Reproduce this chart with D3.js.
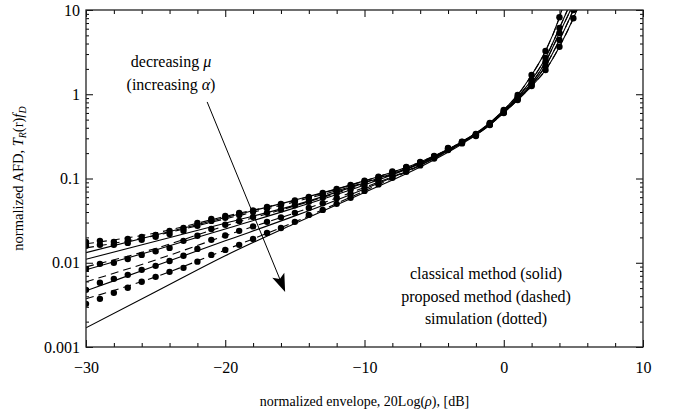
<!DOCTYPE html>
<html>
<head>
<meta charset="utf-8">
<script src="https://cdn.jsdelivr.net/npm/d3@7"></script>
<style>
body { margin: 0; background: #fff; }
text { font-family: "Liberation Serif", "Times New Roman", "DejaVu Serif", serif; fill: #000; }
</style>
</head>
<body>
<svg id="chart" width="674" height="414" font-family="Liberation Serif, Times New Roman, serif"></svg>
<script>
// simulation points, one per dB
const simDb = [-30, -29, -28, -27, -26, -25, -24, -23, -22, -21, -20, -19, -18, -17, -16, -15, -14, -13, -12, -11,
    -10, -9, -8, -7, -6, -5, -4, -3, -2, -1, 0, 1, 2, 3, 4, 5];
const sim1 = [0.0177, 0.0182, 0.0177, 0.0192, 0.0203, 0.0214, 0.0239, 0.0259, 0.0297, 0.0332, 0.0360, 0.0391, 0.0418, 0.0460, 0.0500, 0.0550, 0.0605, 0.0675, 0.0752, 0.0839,
    0.0944, 0.105, 0.121, 0.137, 0.157, 0.185, 0.231, 0.274, 0.338, 0.457, 0.651, 0.981, 1.69, 3.26, 8.19];
const sim2 = [0.0159, 0.0163, 0.0163, 0.0172, 0.0187, 0.0203, 0.0220, 0.0239, 0.0274, 0.0314, 0.0341, 0.0370, 0.0402, 0.0442, 0.0486, 0.0535, 0.0589, 0.0648, 0.0722, 0.0806,
    0.0912, 0.103, 0.118, 0.135, 0.155, 0.183, 0.228, 0.272, 0.334, 0.450, 0.634, 0.929, 1.48, 2.70, 6.12];
const sim3 = [0.00847, 0.0097, 0.00997, 0.0111, 0.0124, 0.0137, 0.0150, 0.0182, 0.0209, 0.0252, 0.0282, 0.0314, 0.0350, 0.0391, 0.0430, 0.0480, 0.0528, 0.0589, 0.0666, 0.0742,
    0.0863, 0.0989, 0.115, 0.134, 0.153, 0.180, 0.225, 0.268, 0.329, 0.444, 0.617, 0.904, 1.36, 2.42, 5.34];
const sim4 = [0.00477, 0.00578, 0.00644, 0.00718, 0.00824, 0.00919, 0.0105, 0.0121, 0.0146, 0.0187, 0.0211, 0.0239, 0.0270, 0.0306, 0.0346, 0.0391, 0.0448, 0.0507, 0.0581, 0.0657,
    0.0795, 0.0924, 0.109, 0.127, 0.149, 0.178, 0.221, 0.265, 0.325, 0.438, 0.608, 0.880, 1.29, 2.17, 4.41, 10.0];
const sim5 = [0.00325, 0.00373, 0.00439, 0.00504, 0.00594, 0.0068, 0.0078, 0.0087, 0.0103, 0.0124, 0.0142, 0.0163, 0.0192, 0.0226, 0.0259, 0.0306, 0.0370, 0.0424, 0.0500, 0.0589,
    0.0713, 0.0851, 0.102, 0.120, 0.143, 0.173, 0.218, 0.261, 0.320, 0.432, 0.600, 0.856, 1.25, 1.94, 3.67, 7.97];

// analytical curves
const lineDb = [-30, -25, -20, -15, -10, -6, -3, -1, 0, 1, 2, 3, 4, 5, 6];
// classical method (solid)
const classic1 = [0.0132, 0.0213, 0.0344, 0.0554, 0.0937, 0.157, 0.274, 0.457, 0.651, 0.981, 1.69, 3.26, 8.19, 30, 100];
const classic2 = [0.0110, 0.0180, 0.0295, 0.0483, 0.0887, 0.153, 0.272, 0.450, 0.634, 0.929, 1.48, 2.70, 6.12, 15, 50];
const classic3 = [0.00824, 0.0142, 0.0252, 0.0448, 0.0839, 0.151, 0.268, 0.444, 0.617, 0.904, 1.36, 2.42, 5.34, 12, 35];
const classic4 = [0.00464, 0.00919, 0.0182, 0.0360, 0.0752, 0.145, 0.265, 0.438, 0.608, 0.880, 1.29, 2.17, 4.41, 10.0, 25];
const classic5 = [0.00169, 0.00452, 0.0121, 0.0293, 0.0684, 0.137, 0.257, 0.432, 0.600, 0.856, 1.25, 1.94, 3.67, 7.97, 20];
// proposed method (dashed)
const proposed1 = [0.0168, 0.0226, 0.0355, 0.0550, 0.0937, 0.157, 0.274, 0.457, 0.651, 0.981, 1.69, 3.26, 8.19, 30, 100];
const proposed2 = [0.0150, 0.0211, 0.0332, 0.0528, 0.0899, 0.153, 0.272, 0.450, 0.634, 0.929, 1.48, 2.70, 6.12, 15, 50];
const proposed3 = [0.00894, 0.0148, 0.0274, 0.0473, 0.0863, 0.151, 0.268, 0.444, 0.617, 0.904, 1.36, 2.42, 5.34, 12, 35];
const proposed4 = [0.00594, 0.0108, 0.0209, 0.0391, 0.0784, 0.145, 0.265, 0.438, 0.608, 0.880, 1.29, 2.17, 4.41, 10.0, 25];
const proposed5 = [0.00373, 0.0068, 0.0142, 0.0306, 0.0713, 0.143, 0.261, 0.432, 0.600, 0.856, 1.25, 1.94, 3.67, 7.97, 20];

const xMajor = [-30, -20, -10, 0, 10];
const xMinor = [-28, -26, -24, -22, -18, -16, -14, -12, -8, -6, -4, -2, 2, 4, 6, 8];
const yMajor = [0.001, 0.01, 0.1, 1, 10];
const yLabels = ["0.001", "0.01", "0.1", "1", "10"];
const legendLines = ["classical method (solid)", "proposed method (dashed)", "simulation (dotted)"];

// arrow annotation, in data units
const arrowFrom = [-21.3, 0.81];
const arrowTo = [-15.7, 0.0045];

const width = 674, height = 414;
const margin = { left: 86, right: 31, top: 10, bottom: 67 };
const x0 = margin.left, x1 = width - margin.right;
const y0 = height - margin.bottom, y1 = margin.top;
const serif = "Liberation Serif, Times New Roman, serif";

var svg = d3.select("#chart");
var x = d3.scaleLinear().domain([-30, 10]).range([x0, x1]);
var y = d3.scaleLog().domain([0.001, 10]).range([y0, y1]);

svg.append("clipPath").attr("id", "plotClip")
    .append("rect").attr("x", x0).attr("y", y1).attr("width", x1 - x0).attr("height", y0 - y1);

var plot = svg.append("g").attr("clip-path", "url(#plotClip)");

var line = d3.line()
    .x(d => x(d[0]))
    .y(d => y(d[1]))
    .curve(d3.curveMonotoneX);

function pairs(xs, ys) {
    return ys.map((v, i) => [xs[i], v]);
}

[classic1, classic2, classic3, classic4, classic5].forEach(s => {
    plot.append("path").attr("d", line(pairs(lineDb, s)))
        .attr("fill", "none").attr("stroke", "#000").attr("stroke-width", 1.1);
});
[proposed1, proposed2, proposed3, proposed4, proposed5].forEach(s => {
    plot.append("path").attr("d", line(pairs(lineDb, s)))
        .attr("fill", "none").attr("stroke", "#000").attr("stroke-width", 1.1)
        .attr("stroke-dasharray", "8,5");
});
[sim1, sim2, sim3, sim4, sim5].forEach(s => {
    plot.append("g").selectAll("circle").data(pairs(simDb, s)).join("circle")
        .attr("cx", d => x(d[0])).attr("cy", d => y(d[1])).attr("r", 3.2)
        .attr("fill", "#000");
});

// axes: inward ticks on all four sides
function styleAxis(g) {
    g.select(".domain").remove();
    g.selectAll("line").attr("stroke", "#000").attr("stroke-width", 1);
    g.selectAll("text").attr("font-family", serif).attr("font-size", 16).attr("fill", "#000");
    g.attr("font-family", serif).attr("font-size", null);
}
const fmtX = d => d < 0 ? "\u2212" + Math.abs(d) : String(d);
var yMinor = [];
[0.001, 0.01, 0.1, 1].forEach(dec => {
    for (var k = 2; k <= 9; k++) yMinor.push(dec * k);
});

svg.append("g").attr("transform", `translate(0,${y0})`)
    .call(d3.axisBottom(x).tickValues(xMajor).tickSize(-7).tickPadding(15).tickFormat(fmtX)).call(styleAxis);
svg.append("g").attr("transform", `translate(0,${y0})`)
    .call(d3.axisBottom(x).tickValues(xMinor).tickSize(-4).tickFormat("")).call(styleAxis);
svg.append("g").attr("transform", `translate(0,${y1})`)
    .call(d3.axisTop(x).tickValues(xMajor).tickSize(-7).tickFormat("")).call(styleAxis);
svg.append("g").attr("transform", `translate(0,${y1})`)
    .call(d3.axisTop(x).tickValues(xMinor).tickSize(-4).tickFormat("")).call(styleAxis);

svg.append("g").attr("transform", `translate(${x0},0)`)
    .call(d3.axisLeft(y).tickValues(yMajor).tickSize(-7).tickPadding(6).tickFormat((d, i) => yLabels[i])).call(styleAxis);
svg.append("g").attr("transform", `translate(${x0},0)`)
    .call(d3.axisLeft(y).tickValues(yMinor).tickSize(-3).tickFormat("")).call(styleAxis);
svg.append("g").attr("transform", `translate(${x1},0)`)
    .call(d3.axisRight(y).tickValues(yMajor).tickSize(-7).tickFormat("")).call(styleAxis);
svg.append("g").attr("transform", `translate(${x1},0)`)
    .call(d3.axisRight(y).tickValues(yMinor).tickSize(-3).tickFormat("")).call(styleAxis);

svg.append("rect").attr("x", x0).attr("y", y1).attr("width", x1 - x0).attr("height", y0 - y1)
    .attr("fill", "none").attr("stroke", "#222").attr("stroke-width", 1.3);

// axis titles
svg.append("text").attr("x", (x0 + x1) / 2).attr("y", 406).attr("text-anchor", "middle").attr("font-size", 14)
    .call(t => {
        t.append("tspan").text("normalized envelope, 20Log(");
        t.append("tspan").attr("font-style", "italic").text("\u03c1");
        t.append("tspan").text("), [dB]");
    });

svg.append("text").attr("transform", `translate(23,${(y0 + y1) / 2}) rotate(-90)`)
    .attr("text-anchor", "middle").attr("font-size", 14.5)
    .call(t => {
        t.append("tspan").text("normalized AFD, ");
        t.append("tspan").attr("font-style", "italic").text("T");
        t.append("tspan").attr("font-style", "italic").attr("font-size", 10).attr("dy", 3).text("R");
        t.append("tspan").attr("dy", -3).text("(r)");
        t.append("tspan").attr("font-style", "italic").text("f");
        t.append("tspan").attr("font-style", "italic").attr("font-size", 10).attr("dy", 3).text("D");
    });

// annotation
var ann = svg.append("g");
ann.append("text").attr("x", 171).attr("y", 67).attr("text-anchor", "middle").attr("font-size", 16)
    .call(t => {
        t.append("tspan").text("decreasing ");
        t.append("tspan").attr("font-style", "italic").text("\u03bc");
    });
ann.append("text").attr("x", 171).attr("y", 90).attr("text-anchor", "middle").attr("font-size", 16)
    .call(t => {
        t.append("tspan").text("(increasing ");
        t.append("tspan").attr("font-style", "italic").text("\u03b1");
        t.append("tspan").text(")");
    });

var ax = x(arrowFrom[0]), ay = y(arrowFrom[1]);
var bx = x(arrowTo[0]), by = y(arrowTo[1]);
var len = Math.sqrt((bx - ax) ** 2 + (by - ay) ** 2);
var ux = (bx - ax) / len, uy = (by - ay) / len;
var headLen = 18, headW = 6.5, notch = 4;
ann.append("line").attr("x1", ax).attr("y1", ay)
    .attr("x2", bx - ux * (headLen - notch)).attr("y2", by - uy * (headLen - notch))
    .attr("stroke", "#000").attr("stroke-width", 1);
ann.append("path").attr("fill", "#000")
    .attr("d", `M${bx},${by}L${bx - ux * headLen - uy * headW},${by - uy * headLen + ux * headW}` +
        `L${bx - ux * (headLen - notch)},${by - uy * (headLen - notch)}` +
        `L${bx - ux * headLen + uy * headW},${by - uy * headLen - ux * headW}Z`);

// legend text
svg.append("g").selectAll("text").data(legendLines).join("text")
    .attr("x", 486).attr("y", (d, i) => 279 + i * 22.5)
    .attr("text-anchor", "middle").attr("font-size", 16)
    .text(d => d);
</script>
</body>
</html>
